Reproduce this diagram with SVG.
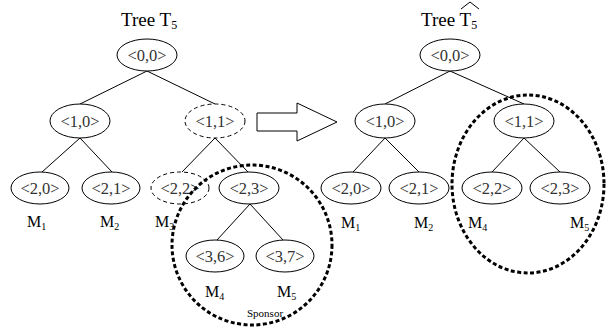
<svg xmlns="http://www.w3.org/2000/svg" width="612" height="330" viewBox="0 0 612 330">
<style>
text{font-family:"Liberation Serif","Times New Roman",serif;fill:#000}
.lbl{font-size:16.5px;fill:#333;text-anchor:middle}
.n{fill:#fff;stroke:#000;stroke-width:1}
.d{fill:#fff;stroke:#000;stroke-width:1;stroke-dasharray:4 3}
.e{stroke:#000;stroke-width:1;fill:none}
.big{fill:none;stroke:#000;stroke-width:3;stroke-dasharray:4 2.5}
.m{font-size:16px}
.sub{font-size:10px}
.t{font-size:19px}
</style>
<rect width="612" height="330" fill="#fff"/>
<g id="connectors">
<line class="e" x1="147" y1="71" x2="80" y2="104"/>
<line class="e" x1="147" y1="71" x2="215" y2="104"/>
<line class="e" x1="80" y1="138" x2="42" y2="172"/>
<line class="e" x1="80" y1="138" x2="112" y2="172"/>
<line class="e" x1="215" y1="138" x2="182" y2="172"/>
<line class="e" x1="215" y1="138" x2="248" y2="172"/>
<line class="e" x1="250" y1="204" x2="217" y2="240"/>
<line class="e" x1="250" y1="204" x2="283" y2="240"/>
<line class="e" x1="450" y1="71" x2="385" y2="104"/>
<line class="e" x1="450" y1="71" x2="524" y2="104"/>
<line class="e" x1="385" y1="138" x2="353" y2="172"/>
<line class="e" x1="385" y1="138" x2="419" y2="172"/>
<line class="e" x1="524" y1="138" x2="492" y2="172"/>
<line class="e" x1="524" y1="138" x2="560" y2="172"/>
</g>
<g id="title-left"><text class="t" x="121" y="26">Tree T<tspan font-size="12" dy="3">5</tspan></text></g>
<g id="title-right"><text class="t" x="421" y="26">Tree T<tspan font-size="12" dy="3">5</tspan></text>
<path d="M461 9 L470 2 L479 9" fill="none" stroke="#000" stroke-width="1"/></g>
<g id="L00"><ellipse class="n" cx="147" cy="55" rx="30" ry="16"/><text class="lbl" x="147" y="61">&lt;0,0&gt;</text></g>
<g id="L10"><ellipse class="n" cx="80" cy="121" rx="30" ry="17"/><text class="lbl" x="80" y="127">&lt;1,0&gt;</text></g>
<g id="L11"><ellipse class="d" cx="215" cy="121" rx="30" ry="17"/><text class="lbl" x="215" y="127">&lt;1,1&gt;</text></g>
<g id="L20"><ellipse class="n" cx="40" cy="188" rx="29" ry="16"/><text class="lbl" x="40" y="194">&lt;2,0&gt;</text></g>
<g id="L21"><ellipse class="n" cx="111" cy="188" rx="29" ry="16"/><text class="lbl" x="111" y="194">&lt;2,1&gt;</text></g>
<g id="L22"><ellipse class="d" cx="180" cy="188" rx="29" ry="16"/><text class="lbl" x="180" y="194">&lt;2,2&gt;</text></g>
<g id="L23"><ellipse class="n" cx="249" cy="188" rx="30" ry="16"/><text class="lbl" x="249" y="194">&lt;2,3&gt;</text></g>
<g id="L36"><ellipse class="n" cx="215" cy="256" rx="29" ry="16"/><text class="lbl" x="215" y="262">&lt;3,6&gt;</text></g>
<g id="L37"><ellipse class="n" cx="285" cy="256" rx="29" ry="16"/><text class="lbl" x="285" y="262">&lt;3,7&gt;</text></g>
<g id="L-labels">
<text class="m" x="27" y="227">M<tspan class="sub" dy="3">1</tspan></text>
<text class="m" x="100" y="227">M<tspan class="sub" dy="3">2</tspan></text>
<text class="m" x="155" y="227">M<tspan class="sub" dy="3">3</tspan></text>
<text class="m" x="205" y="297">M<tspan class="sub" dy="3">4</tspan></text>
<text class="m" x="277" y="297">M<tspan class="sub" dy="3">5</tspan></text>
<text x="247" y="317" font-size="11">Sponsor</text>
</g>
<g id="sponsor-circle"><ellipse class="big" cx="252" cy="245" rx="80" ry="80"/></g>
<g id="arrow"><path d="M257 113 H297 V103 L337 122 L297 141 V131 H257 Z" fill="#fff" stroke="#000" stroke-width="1"/></g>
<g id="R00"><ellipse class="n" cx="450" cy="55" rx="30" ry="16"/><text class="lbl" x="450" y="61">&lt;0,0&gt;</text></g>
<g id="R10"><ellipse class="n" cx="385" cy="121" rx="30" ry="17"/><text class="lbl" x="385" y="127">&lt;1,0&gt;</text></g>
<g id="R11"><ellipse class="n" cx="524" cy="121" rx="30" ry="17"/><text class="lbl" x="524" y="127">&lt;1,1&gt;</text></g>
<g id="R20"><ellipse class="n" cx="351" cy="188" rx="30" ry="16"/><text class="lbl" x="351" y="194">&lt;2,0&gt;</text></g>
<g id="R21"><ellipse class="n" cx="419" cy="188" rx="30" ry="16"/><text class="lbl" x="419" y="194">&lt;2,1&gt;</text></g>
<g id="R22"><ellipse class="n" cx="492" cy="188" rx="30" ry="16"/><text class="lbl" x="492" y="194">&lt;2,2&gt;</text></g>
<g id="R23"><ellipse class="n" cx="560" cy="188" rx="30" ry="16"/><text class="lbl" x="560" y="194">&lt;2,3&gt;</text></g>
<g id="R-labels">
<text class="m" x="341" y="228">M<tspan class="sub" dy="3">1</tspan></text>
<text class="m" x="414" y="228">M<tspan class="sub" dy="3">2</tspan></text>
<text class="m" x="468" y="228">M<tspan class="sub" dy="3">4</tspan></text>
<text class="m" x="570" y="228">M<tspan class="sub" dy="3">5</tspan></text>
</g>
<g id="group-circle"><ellipse class="big" cx="528" cy="184" rx="76" ry="89"/></g>
</svg>
